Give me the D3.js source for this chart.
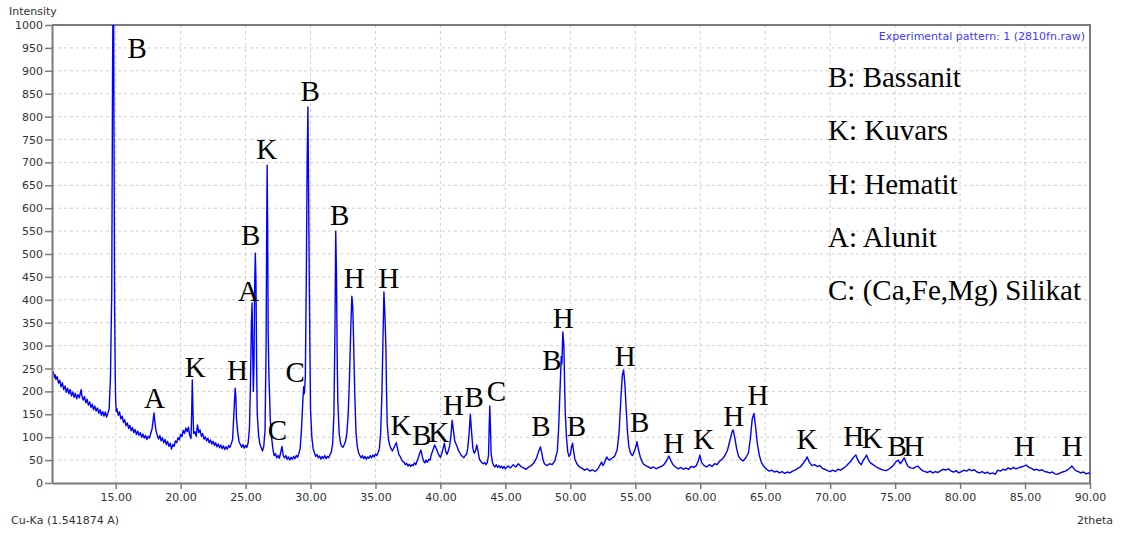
<!DOCTYPE html>
<html>
<head>
<meta charset="utf-8">
<script src="https://cdn.jsdelivr.net/npm/d3@7"></script>
<style>
  html, body { margin: 0; padding: 0; background: #fff; }
  svg { display: block; }
</style>
</head>
<body>
<div id="chart"></div>
<script>
// 2theta (deg), intensity (counts)
const pattern = [
  [10.1,254],[10.15,238],[10.2,242],[10.3,230],[10.35,236],[10.4,226],[10.5,232],[10.6,218],[10.7,224],[10.8,210],
  [10.9,219],[11.0,204],[11.1,212],[11.2,198],[11.3,207],[11.4,195],[11.5,204],[11.6,190],[11.7,199],[11.8,187],
  [11.9,196],[12.0,184],[12.1,193],[12.2,186],[12.3,199],[12.35,204],[12.4,190],[12.5,181],[12.6,189],[12.7,175],
  [12.8,183],[12.9,170],[13.0,177],[13.1,165],[13.2,172],[13.3,160],[13.4,168],[13.5,157],[13.6,164],[13.7,152],
  [13.8,160],[13.9,148],[14.0,156],[14.1,146],[14.2,155],[14.3,144],[14.4,152],[14.5,162],[14.6,230],[14.7,420],
  [14.76,885],[14.8,1080],[14.84,1060],[14.88,700],[14.92,380],[14.97,230],[15.0,180],[15.05,156],
  [15.1,162],[15.2,148],[15.3,155],[15.4,140],[15.5,146],[15.6,132],[15.7,138],[15.8,125],[15.9,131],[16.0,119],
  [16.1,126],[16.2,114],[16.3,121],[16.4,110],[16.5,117],[16.6,106],[16.7,113],[16.8,104],[16.9,110],[17.0,100],
  [17.1,107],[17.2,98],[17.3,104],[17.4,95],[17.5,102],[17.6,98],[17.7,108],[17.8,118],[17.9,140],[17.95,153],
  [18.0,138],[18.1,115],[18.2,104],[18.3,96],[18.4,104],[18.5,92],[18.6,99],[18.7,88],[18.8,95],[18.9,84],
  [19.0,91],[19.1,80],[19.2,87],[19.3,74],[19.4,84],[19.5,80],[19.6,92],[19.7,88],[19.8,99],[19.9,94],
  [20.0,106],[20.1,101],[20.2,115],[20.3,108],[20.4,120],[20.5,112],[20.6,122],[20.7,104],[20.8,97],[20.85,150],
  [20.9,225],[20.95,160],[21.0,108],[21.1,112],[21.2,102],[21.3,127],[21.4,110],[21.5,116],[21.6,102],[21.7,108],
  [21.8,96],[21.9,101],[22.0,92],[22.1,98],[22.2,88],[22.3,94],[22.4,85],[22.5,91],[22.6,82],[22.7,88],
  [22.8,79],[22.9,85],[23.0,77],[23.1,83],[23.2,75],[23.3,81],[23.4,73],[23.5,79],[23.6,74],[23.7,82],
  [23.8,78],[23.9,86],[24.0,95],[24.1,150],[24.2,207],[24.25,190],[24.3,140],[24.4,110],[24.5,90],[24.6,84],
  [24.7,78],[24.8,84],[24.9,76],[25.0,82],[25.1,78],[25.2,88],[25.3,120],[25.38,220],[25.45,350],[25.5,393],
  [25.55,290],[25.6,200],[25.65,260],[25.7,430],[25.75,502],[25.8,440],[25.85,260],[25.9,150],[26.0,105],[26.1,85],
  [26.2,78],[26.3,70],[26.4,80],[26.5,115],[26.58,300],[26.62,520],[26.66,694],[26.7,560],[26.74,330],[26.8,230],
  [26.85,190],[26.9,140],[27.0,100],[27.1,75],[27.2,60],[27.3,64],[27.4,55],[27.5,60],[27.6,54],[27.7,66],
  [27.8,80],[27.85,70],[27.9,60],[28.0,55],[28.1,60],[28.2,52],[28.3,57],[28.4,50],[28.5,56],[28.6,52],
  [28.7,58],[28.8,53],[28.9,60],[29.0,56],[29.1,64],[29.2,75],[29.3,115],[29.4,175],[29.47,210],[29.52,195],
  [29.6,230],[29.68,460],[29.74,700],[29.8,821],[29.85,640],[29.9,458],[29.95,300],[30.0,160],[30.1,100],[30.2,75],
  [30.3,66],[30.4,58],[30.5,62],[30.6,55],[30.7,59],[30.8,52],[30.9,58],[31.0,54],[31.1,60],[31.2,53],
  [31.3,58],[31.4,55],[31.5,62],[31.6,68],[31.7,85],[31.8,150],[31.88,330],[31.94,550],[32.0,450],[32.05,280],
  [32.1,180],[32.2,110],[32.3,88],[32.4,80],[32.5,78],[32.6,84],[32.7,92],[32.8,110],[32.9,150],[33.0,230],
  [33.1,340],[33.18,408],[33.25,385],[33.3,330],[33.4,200],[33.5,110],[33.6,80],[33.7,66],[33.8,60],[33.9,55],
  [34.0,60],[34.1,53],[34.2,58],[34.3,52],[34.4,57],[34.5,54],[34.6,60],[34.7,55],[34.8,61],[34.9,57],
  [35.0,63],[35.1,60],[35.2,66],[35.3,75],[35.4,110],[35.5,200],[35.58,320],[35.65,417],[35.72,370],[35.8,300],
  [35.85,200],[35.9,130],[36.0,95],[36.1,82],[36.2,75],[36.3,70],[36.4,76],[36.5,82],[36.6,88],[36.7,75],
  [36.8,62],[36.9,58],[37.0,52],[37.1,47],[37.2,45],[37.3,40],[37.4,43],[37.5,37],[37.6,41],[37.7,36],
  [37.8,40],[37.9,38],[38.0,44],[38.1,40],[38.2,48],[38.3,55],[38.4,65],[38.5,72],[38.6,58],[38.7,48],
  [38.8,44],[38.9,50],[39.0,45],[39.1,52],[39.2,50],[39.3,62],[39.4,70],[39.55,83],[39.7,74],[39.8,66],
  [39.9,60],[40.0,56],[40.1,64],[40.2,75],[40.3,87],[40.4,70],[40.5,62],[40.6,70],[40.7,80],[40.8,100],
  [40.9,137],[41.0,115],[41.1,92],[41.2,85],[41.3,78],[41.4,70],[41.5,65],[41.6,60],[41.7,58],[41.8,55],
  [41.9,60],[42.0,62],[42.1,75],[42.2,105],[42.3,150],[42.4,110],[42.5,75],[42.6,65],[42.7,70],[42.8,83],
  [42.9,68],[43.0,52],[43.1,48],[43.2,44],[43.3,42],[43.4,45],[43.5,40],[43.6,44],[43.7,60],[43.75,120],
  [43.8,168],[43.85,120],[43.9,65],[44.0,45],[44.1,38],[44.2,35],[44.3,40],[44.4,34],[44.5,38],[44.6,33],
  [44.7,37],[44.8,32],[44.9,36],[45.0,31],[45.2,37],[45.4,33],[45.6,40],[45.8,35],[46.0,42],[46.2,36],
  [46.4,33],[46.6,30],[46.8,35],[47.0,38],[47.2,44],[47.4,55],[47.55,68],[47.7,79],[47.8,65],[47.9,50],
  [48.0,42],[48.2,38],[48.4,42],[48.6,40],[48.8,48],[49.0,70],[49.1,120],[49.2,200],[49.3,276],[49.35,260],
  [49.42,330],[49.5,300],[49.55,230],[49.6,160],[49.7,100],[49.8,68],[49.9,58],[50.0,62],[50.1,80],[50.17,87],
  [50.25,70],[50.35,52],[50.5,42],[50.7,35],[50.9,32],[51.1,28],[51.3,31],[51.5,26],[51.7,29],[51.9,25],
  [52.1,30],[52.3,40],[52.4,46],[52.5,38],[52.6,42],[52.7,50],[52.8,57],[52.9,52],[53.0,50],[53.2,54],
  [53.4,58],[53.6,72],[53.75,110],[53.9,190],[54.0,235],[54.1,247],[54.2,215],[54.3,160],[54.4,110],[54.5,80],
  [54.6,68],[54.7,62],[54.8,60],[54.9,68],[55.0,75],[55.13,90],[55.25,72],[55.4,55],[55.6,42],[55.8,38],
  [56.0,35],[56.2,32],[56.4,35],[56.6,31],[56.8,34],[57.0,36],[57.2,40],[57.4,48],[57.58,59],[57.75,48],
  [57.9,40],[58.1,35],[58.3,31],[58.5,34],[58.7,30],[58.9,33],[59.1,30],[59.3,36],[59.5,34],[59.7,38],
  [59.85,48],[59.97,61],[60.1,45],[60.3,38],[60.5,35],[60.7,40],[60.9,36],[61.1,42],[61.3,40],[61.5,48],
  [61.7,52],[61.9,60],[62.1,72],[62.3,95],[62.45,112],[62.53,116],[62.65,100],[62.8,75],[62.95,58],[63.1,52],
  [63.3,48],[63.5,55],[63.7,65],[63.85,95],[64.0,140],[64.13,152],[64.25,125],[64.4,85],[64.55,60],[64.7,45],
  [64.9,36],[65.1,30],[65.3,26],[65.5,28],[65.7,24],[65.9,26],[66.1,22],[66.3,25],[66.5,21],[66.7,24],
  [66.9,22],[67.1,26],[67.3,28],[67.5,32],[67.7,35],[67.9,42],[68.1,50],[68.23,57],[68.4,45],[68.6,38],
  [68.8,40],[69.0,36],[69.2,38],[69.4,32],[69.6,30],[69.8,27],[70.0,25],[70.2,28],[70.4,25],[70.6,30],
  [70.8,28],[71.0,32],[71.2,36],[71.4,42],[71.6,48],[71.8,56],[71.98,61],[72.1,52],[72.25,44],[72.4,40],
  [72.55,50],[72.7,56],[72.8,61],[72.95,50],[73.1,44],[73.3,40],[73.5,36],[73.7,33],[73.9,30],[74.1,28],
  [74.3,27],[74.5,30],[74.7,34],[74.9,40],[75.05,46],[75.24,50],[75.4,42],[75.55,48],[75.7,55],[75.85,44],
  [76.0,36],[76.2,33],[76.4,32],[76.6,35],[76.75,37],[76.9,32],[77.1,27],[77.3,25],[77.5,23],[77.7,26],
  [77.9,22],[78.1,25],[78.3,23],[78.5,27],[78.7,30],[78.9,28],[79.1,31],[79.3,26],[79.5,24],[79.7,27],
  [79.9,22],[80.1,25],[80.3,28],[80.5,26],[80.7,30],[80.9,27],[81.1,29],[81.3,24],[81.5,22],[81.7,25],
  [81.9,21],[82.1,24],[82.3,20],[82.5,22],[82.7,19],[82.9,28],[83.1,26],[83.3,30],[83.5,28],[83.7,33],
  [83.9,30],[84.1,34],[84.3,31],[84.5,33],[84.7,35],[84.9,37],[85.1,39],[85.3,34],[85.5,32],[85.7,28],
  [85.9,30],[86.1,27],[86.3,29],[86.5,25],[86.7,24],[86.9,22],[87.1,24],[87.3,20],[87.5,19],[87.7,22],
  [87.9,24],[88.1,26],[88.3,29],[88.5,34],[88.6,37],[88.75,32],[88.9,27],[89.1,25],[89.3,22],[89.5,24],
  [89.7,20],[89.9,22],[90.0,20]
];

// phase marks: letter, 2theta of label centre, intensity of label baseline
const peakLabels = [
  ['B',16.66,928],['B',29.98,834],['K',26.63,707],['B',25.40,520],['A',25.23,397],['B',32.25,563],
  ['H',33.36,426],['H',36.02,426],['H',49.46,338],['B',48.59,247],['H',54.23,255],['K',21.12,231],
  ['H',24.38,225],['C',28.82,221],['C',44.30,179],['B',42.60,166],['A',17.99,164],['H',41.01,148],
  ['H',64.45,170],['K',36.96,105],['H',62.57,124],['B',38.58,83],['K',39.86,90],['C',27.46,94],
  ['B',47.73,103],['B',50.46,103],['B',55.33,111],['H',57.95,66],['K',60.26,74],['K',68.22,74],
  ['H',71.81,81],['K',73.23,76],['B',75.15,59],['H',76.43,59],['H',84.95,59],['H',88.63,59]
];

const legendItems = ['B: Bassanit', 'K: Kuvars', 'H: Hematit', 'A: Alunit', 'C: (Ca,Fe,Mg) Silikat'];
const xTicks = [15, 20, 25, 30, 35, 40, 45, 50, 55, 60, 65, 70, 75, 80, 85, 90];
const yTicks = d3.range(0, 1001, 50);
const xDomain = [10.1, 90];
const yDomain = [0, 1000];

const W = 1122, H = 534;
const margin = { top: 25, right: 32, bottom: 51, left: 52 };
const w = W - margin.left - margin.right;
const h = H - margin.top - margin.bottom;

const svg = d3.select('#chart').append('svg').attr('width', W).attr('height', H);
const g = svg.append('g').attr('transform', `translate(${margin.left},${margin.top})`);

const x = d3.scaleLinear().domain(xDomain).range([0, w]);
const y = d3.scaleLinear().domain(yDomain).range([h, 0]);

// grid
g.append('g').selectAll('line').data(xTicks.filter(d => d < 90)).join('line')
  .attr('x1', d => x(d)).attr('x2', d => x(d)).attr('y1', 0).attr('y2', h)
  .attr('stroke', '#cfcfcf').attr('stroke-dasharray', '3,3');
g.append('g').selectAll('line').data(yTicks.filter(d => d > 0 && d < 1000)).join('line')
  .attr('x1', 0).attr('x2', w).attr('y1', d => y(d)).attr('y2', d => y(d))
  .attr('stroke', '#cfcfcf').attr('stroke-dasharray', '3,3');

// frame top/right
g.append('path').attr('d', `M0,0H${w}V${h}`).attr('fill', 'none')
  .attr('stroke', '#7a7a7a').attr('stroke-width', 2);

g.append('clipPath').attr('id', 'clip').append('rect').attr('width', w).attr('height', h);

const line = d3.line().x(d => x(d[0])).y(d => y(d[1]));
g.append('path').datum(pattern).attr('clip-path', 'url(#clip)')
  .attr('d', line).attr('fill', 'none').attr('stroke', '#0000ff').attr('stroke-width', 1.4)
  .attr('stroke-linejoin', 'round');

// axes
const yAxis = g.append('g')
  .call(d3.axisLeft(y).tickValues(yTicks).tickSize(7).tickPadding(2).tickSizeOuter(0).tickFormat(d3.format('d')));
const xAxis = g.append('g').attr('transform', `translate(0,${h})`)
  .call(d3.axisBottom(x).tickValues(xTicks).tickSize(6).tickPadding(4).tickSizeOuter(0).tickFormat(d3.format('.2f')));
[xAxis, yAxis].forEach(a => {
  a.select('.domain').attr('stroke', '#7a7a7a').attr('stroke-width', 2);
  a.selectAll('.tick line').attr('stroke', '#7a7a7a').attr('stroke-width', 1.5);
  a.selectAll('text').style('font-family', '"DejaVu Sans", sans-serif').style('font-size', '11px').attr('fill', '#333');
});

const sans = '"DejaVu Sans", sans-serif';
svg.append('text').attr('x', 9).attr('y', 15).text('Intensity')
  .style('font-family', sans).style('font-size', '11px').attr('fill', '#333');
svg.append('text').attr('x', 11).attr('y', 524).text('Cu-Ka (1.541874 A)')
  .style('font-family', sans).style('font-size', '11px').attr('fill', '#333');
svg.append('text').attr('x', 1113).attr('y', 524).attr('text-anchor', 'end').text('2theta')
  .style('font-family', sans).style('font-size', '11px').attr('fill', '#333');
g.append('text').attr('x', w - 5).attr('y', 15).attr('text-anchor', 'end').text('Experimental pattern: 1 (2810fn.raw)')
  .style('font-family', sans).style('font-size', '11px').attr('fill', '#3b3bff');

// phase letters
const serif = '"Liberation Serif", "Times New Roman", serif';
g.append('g').selectAll('text').data(peakLabels).join('text')
  .attr('x', d => x(d[1])).attr('y', d => y(d[2])).attr('text-anchor', 'middle')
  .text(d => d[0]).style('font-family', serif).style('font-size', '29px').attr('fill', '#000');

// legend
g.append('g').selectAll('text').data(legendItems).join('text')
  .attr('x', 776).attr('y', (d, i) => 62 + i * 53.3)
  .text(d => d).style('font-family', serif).style('font-size', '29px').attr('fill', '#000');
</script>
</body>
</html>
